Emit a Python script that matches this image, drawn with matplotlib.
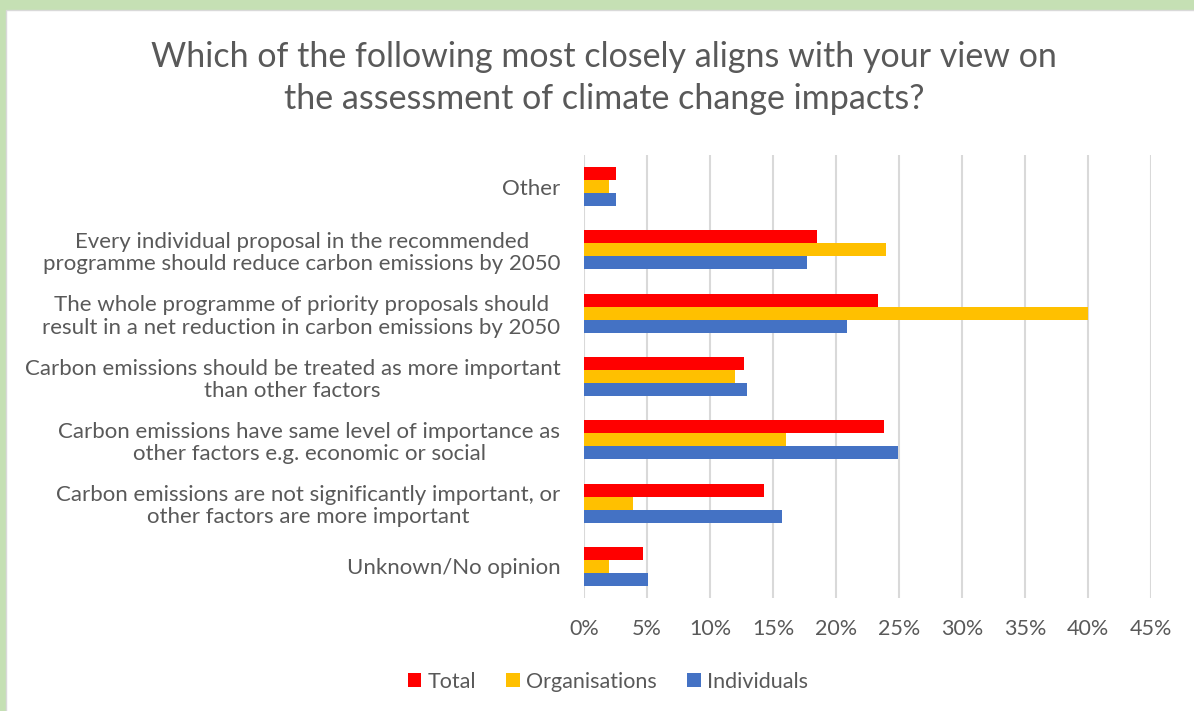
import matplotlib
matplotlib.use("Agg")
import matplotlib.pyplot as plt
import numpy as np
from matplotlib.patches import Rectangle

categories = [
    "Other",
    "Every individual proposal in the recommended\nprogramme should reduce carbon emissions by 2050",
    "The whole programme of priority proposals should\nresult in a net reduction in carbon emissions by 2050",
    "Carbon emissions should be treated as more important\nthan other factors",
    "Carbon emissions have same level of importance as\nother factors e.g. economic or social",
    "Carbon emissions are not significantly important, or\nother factors are more important",
    "Unknown/No opinion",
]
total = [2.5, 18.5, 23.3, 12.7, 23.8, 14.3, 4.7]
organisations = [2.0, 24.0, 40.0, 12.0, 16.0, 3.9, 2.0]
individuals = [2.5, 17.7, 20.9, 12.9, 24.9, 15.7, 5.1]
series_names = ["Total", "Organisations", "Individuals"]
colors = ["#FF0000", "#FFC000", "#4472C4"]
xticks = [0, 5, 10, 15, 20, 25, 30, 35, 40, 45]
title = "Which of the following most closely aligns with your view on\nthe assessment of climate change impacts?"

plt.rcParams['font.family'] = ['Lato', 'DejaVu Sans']
txt = "#595959"

fig = plt.figure(figsize=(11.94, 7.11), dpi=100)
# green frame
fig.patches.append(Rectangle((0, 0), 1, 1, transform=fig.transFigure,
                             facecolor="#C5E0B4", edgecolor="none", zorder=-10))
fig.patches.append(Rectangle((6/1194, -0.01), 1.1, 1 - 10/711 + 0.01, transform=fig.transFigure,
                             facecolor="white", edgecolor="#D9D9D9", linewidth=1, zorder=-9))

ax = fig.add_axes([584/1194, 1 - 598/711, (1151 - 584)/1194, (598 - 155)/711])
y = np.arange(len(categories))
h = 0.205
for i, (vals, name, c) in enumerate(zip([total, organisations, individuals], series_names, colors)):
    ax.barh(y + (i - 1) * h, vals, height=h, color=c, label=name, zorder=3)

ax.set_ylim(len(categories) - 0.5, -0.5)
ax.set_xlim(0, 45)
ax.set_xticks(xticks)
ax.set_xticklabels([f"{v}%" for v in xticks], fontsize=15.5, color=txt)
ax.set_yticks(y)
ax.set_yticklabels(categories, fontsize=16, color=txt, multialignment='center',
                   linespacing=1.15)
ax.tick_params(axis='both', length=0)
ax.tick_params(axis='y', pad=17)
ax.tick_params(axis='x', pad=15)
ax.grid(axis='x', color="#D9D9D9", linewidth=1.5, zorder=0)
for s in ax.spines.values():
    s.set_visible(False)

fig.text(604/1194, 1 - 78/711, title, ha='center', va='center', fontsize=24.5,
         color=txt, linespacing=1.42)

leg = fig.legend(loc='center', bbox_to_anchor=(608/1194, 1 - 682/711), ncol=3,
                 frameon=False, fontsize=15.5, handlelength=0.62, handleheight=0.62,
                 handletextpad=0.3, columnspacing=1.4, labelcolor=txt)

fig.savefig("out.png", dpi=100)
